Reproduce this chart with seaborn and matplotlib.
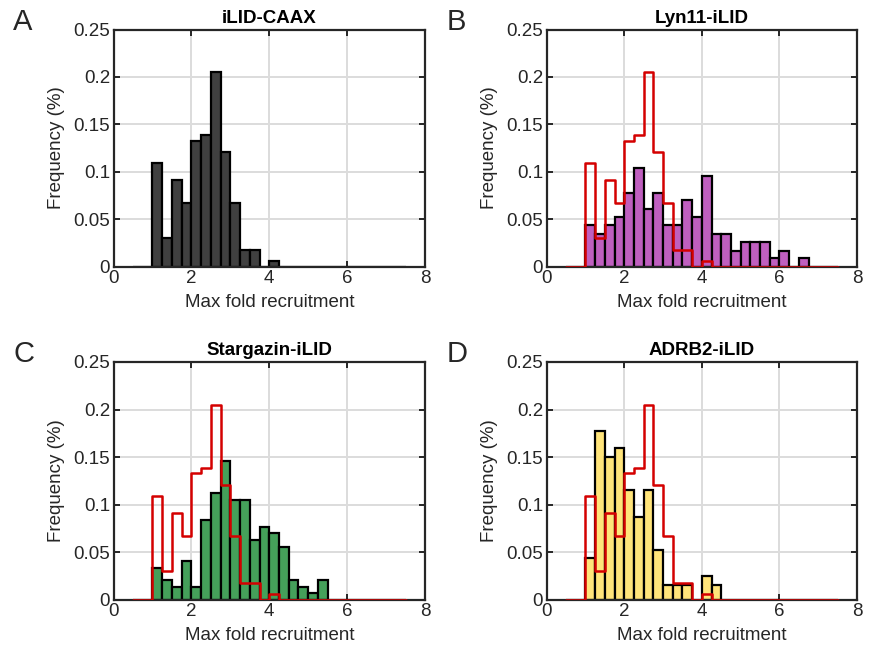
import numpy as np
import pandas as pd
import matplotlib
matplotlib.use("Agg")
import matplotlib.pyplot as plt
import seaborn as sns

# histogram bins (width 0.25, from 0.5 to 7.5)
bin_left = np.arange(0.5, 7.5, 0.25)
bin_edges = np.append(bin_left, 7.5)
bin_mid = bin_left + 0.125

# frequencies, one per bin
caax = [0, 0, 0.109, 0.030, 0.091, 0.067, 0.133, 0.139, 0.205, 0.121, 0.067, 0.018, 0.018, 0, 0.006,
        0, 0, 0, 0, 0, 0, 0, 0, 0, 0, 0, 0, 0]
lyn11 = [0, 0, 0.044, 0.035, 0.044, 0.052, 0.078, 0.104, 0.061, 0.078, 0.044, 0.044, 0.070, 0.052,
         0.096, 0.035, 0.035, 0.017, 0.026, 0.026, 0.026, 0.009, 0.017, 0, 0.009, 0, 0, 0]
stargazin = [0, 0, 0.034, 0.021, 0.014, 0.041, 0.014, 0.084, 0.112, 0.146, 0.105, 0.105, 0.063, 0.077,
             0.070, 0.056, 0.021, 0.014, 0.007, 0.021, 0, 0, 0, 0, 0, 0, 0, 0]
adrb2 = [0, 0, 0.044, 0.177, 0.150, 0.160, 0.115, 0.087, 0.115, 0.052, 0.016, 0.016, 0.016, 0,
         0.025, 0.016, 0, 0, 0, 0, 0, 0, 0, 0, 0, 0, 0, 0]

titles = ['iLID-CAAX', 'Lyn11-iLID', 'Stargazin-iLID', 'ADRB2-iLID']
letters = ['A', 'B', 'C', 'D']
series = [caax, lyn11, stargazin, adrb2]
fills = ['#404040', '#bf5fbf', '#45a05a', '#ffe47a']
ref_red = '#d40000'

sns.set_style('ticks')
plt.rcParams['font.family'] = ['Liberation Sans', 'DejaVu Sans']

fig = plt.figure(figsize=(8.7, 6.56), dpi=100)
positions = [
    [0.1305, 0.5934, 0.358, 0.3616],
    [0.6284, 0.5934, 0.3567, 0.3616],
    [0.1305, 0.0854, 0.358, 0.3628],
    [0.6284, 0.0854, 0.3567, 0.3628],
]

ref_df = pd.DataFrame({'mid': bin_mid, 'freq': caax})

for i in range(4):
    df = pd.DataFrame({'mid': bin_mid, 'freq': series[i]})
    ax = fig.add_axes(positions[i])
    ax.grid(True, color='#dcdcdc', lw=1.4, zorder=0)
    ax.set_axisbelow(True)
    sns.histplot(data=df, x='mid', weights='freq', bins=list(bin_edges), ax=ax,
                 color=fills[i], alpha=1, edgecolor='black', linewidth=1.6, zorder=2)
    if i > 0:
        # iLID-CAAX reference as red outline
        sns.histplot(data=ref_df, x='mid', weights='freq', bins=list(bin_edges), ax=ax,
                     element='step', fill=False, color=ref_red, linewidth=1.8, zorder=3)
    ax.set_xlim(0, 8)
    ax.set_ylim(0, 0.25)
    ax.set_xticks([0, 2, 4, 6, 8])
    ax.set_yticks([0, 0.05, 0.1, 0.15, 0.2, 0.25])
    ax.set_yticklabels(['0', '0.05', '0.1', '0.15', '0.2', '0.25'])
    ax.tick_params(direction='in', length=4, width=1.4, labelsize=13.5, colors='#262626',
                   top=True, right=True, pad=2.5)
    for s in ax.spines.values():
        s.set_linewidth(1.6)
        s.set_color('#262626')
    ax.set_xlabel('Max fold recruitment', fontsize=13.5, color='#262626', labelpad=5)
    ax.set_ylabel('Frequency (%)', fontsize=13.5, color='#262626', labelpad=6)
    ax.set_title(titles[i], fontsize=13.5, fontweight='bold', color='black', pad=5)
    pos = positions[i]
    fig.text(pos[0] - 0.1155, pos[1] + pos[3] + 0.012, letters[i], fontsize=21,
             ha='left', va='center')

fig.savefig('out.png', dpi=100)
